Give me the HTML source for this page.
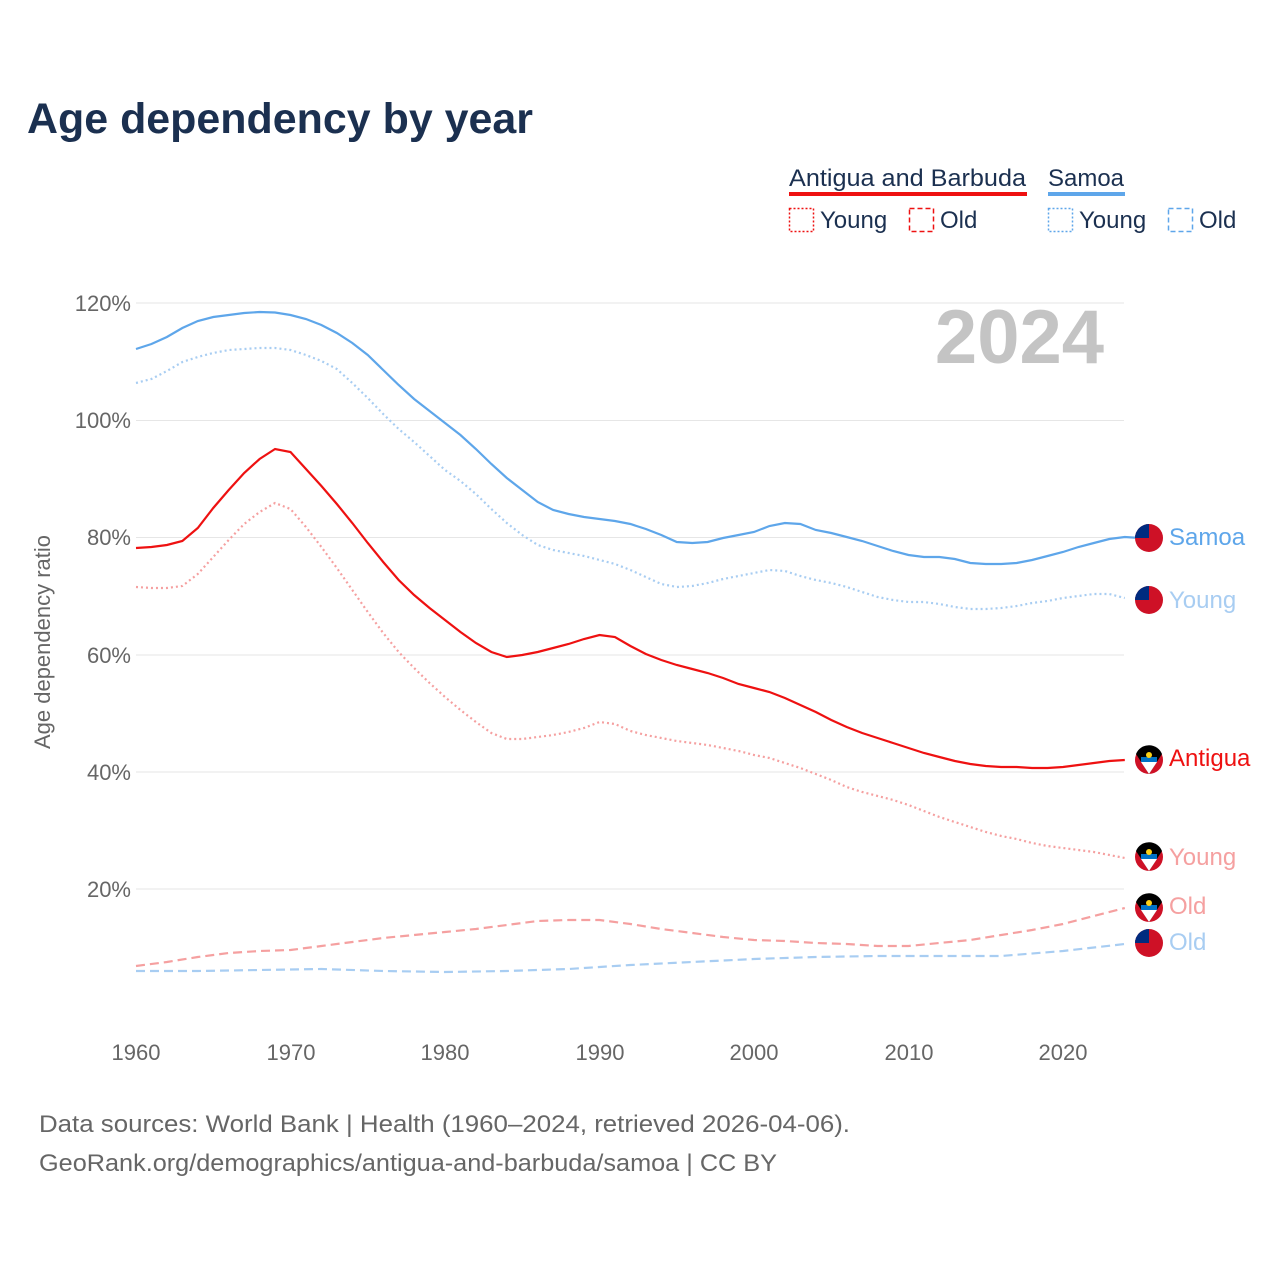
<!DOCTYPE html>
<html><head><meta charset="utf-8"><style>
body{margin:0;background:#fff;}
svg text{font-family:"Liberation Sans",sans-serif;}
</style></head><body>
<svg id="s" width="1280" height="1280" xmlns="http://www.w3.org/2000/svg">
<rect width="1280" height="1280" fill="#fff"/>
<text x="27" y="133" font-size="43" font-weight="bold" fill="#1b3050" textLength="506" lengthAdjust="spacingAndGlyphs">Age dependency by year</text>
<text x="789" y="186" font-size="24" fill="#1b3050" textLength="237" lengthAdjust="spacingAndGlyphs">Antigua and Barbuda</text>
<rect x="789" y="192" width="238" height="4" fill="#ee1111"/>
<text x="1048" y="186" font-size="24" fill="#1b3050" textLength="76" lengthAdjust="spacingAndGlyphs">Samoa</text>
<rect x="1048" y="192" width="77" height="4" fill="#5ea6ea"/>
<rect x="789.5" y="208.5" width="24" height="23" fill="none" stroke="#ee1111" stroke-width="1.5" stroke-dasharray="2,2"/>
<text x="820" y="228" font-size="24" fill="#1b3050">Young</text>
<rect x="909.5" y="208.5" width="24" height="23" fill="none" stroke="#ee1111" stroke-width="1.5" stroke-dasharray="5,3"/>
<text x="940" y="228" font-size="24" fill="#1b3050">Old</text>
<rect x="1048.5" y="208.5" width="24" height="23" fill="none" stroke="#5ea6ea" stroke-width="1.5" stroke-dasharray="2,2"/>
<text x="1079" y="228" font-size="24" fill="#1b3050">Young</text>
<rect x="1168.5" y="208.5" width="24" height="23" fill="none" stroke="#5ea6ea" stroke-width="1.5" stroke-dasharray="5,3"/>
<text x="1199" y="228" font-size="24" fill="#1b3050">Old</text>
<g stroke="#e6e6e6" stroke-width="1">
<line x1="136" x2="1124" y1="303" y2="303"/><line x1="136" x2="1124" y1="420.5" y2="420.5"/>
<line x1="136" x2="1124" y1="537.5" y2="537.5"/><line x1="136" x2="1124" y1="655" y2="655"/>
<line x1="136" x2="1124" y1="772" y2="772"/><line x1="136" x2="1124" y1="889" y2="889"/>
</g>
<g font-size="22" fill="#666" text-anchor="end">
<text x="131" y="311">120%</text><text x="131" y="428">100%</text><text x="131" y="545">80%</text>
<text x="131" y="663">60%</text><text x="131" y="780">40%</text><text x="131" y="897">20%</text>
</g>
<g font-size="22" fill="#666" text-anchor="middle">
<text x="136" y="1060">1960</text><text x="291" y="1060">1970</text><text x="445" y="1060">1980</text>
<text x="600" y="1060">1990</text><text x="754" y="1060">2000</text><text x="909" y="1060">2010</text><text x="1063" y="1060">2020</text>
</g>
<text transform="translate(50,642) rotate(-90)" font-size="22" fill="#666" text-anchor="middle">Age dependency ratio</text>
<text x="1104" y="363" font-size="76" font-weight="bold" fill="#c4c4c4" text-anchor="end">2024</text>
<g id="lines" fill="none" stroke-width="2.2"></g>
<g id="flags"></g>
<g font-size="24">
<text x="1169" y="545" fill="#5ea6ea">Samoa</text>
<text x="1169" y="608" fill="#a8cdf2">Young</text>
<text x="1169" y="766" fill="#ee1111">Antigua</text>
<text x="1169" y="865" fill="#f5a0a0">Young</text>
<text x="1169" y="914" fill="#f5a0a0">Old</text>
<text x="1169" y="950" fill="#a8cdf2">Old</text>
</g>
<text x="39" y="1132" font-size="24" fill="#666" textLength="811" lengthAdjust="spacingAndGlyphs">Data sources: World Bank | Health (1960–2024, retrieved 2026-04-06).</text>
<text x="39" y="1171" font-size="24" fill="#666" textLength="738" lengthAdjust="spacingAndGlyphs">GeoRank.org/demographics/antigua-and-barbuda/samoa | CC BY</text>
</svg>
<script>
function X(y){return 136+(y-1960)*15.45;}
function full(a){return a.map((v,i)=>[X(1960+i),v]);}
function sparse(a){var r=[];for(var i=0;i<a.length;i+=2)r.push([X(a[i]),a[i+1]]);return r;}
var st=[349,344,337,328,321,317,315,313,312,312.5,315,319,325,333,343,355,370,385,399,411,423,435,449,464,478,490,502,510,514,517,519,521,524,529,535,542,543,542,538,535,532,526,523,524,530,533,537,541,546,551,555,557,557,559,563,564,564,563,560,556,552,547,543,539,537,538];
var sy=[383,379,371,362,357,353,350,349,348,348,350,355,361,369,383,398,414,429,442,456,470,481,494,509,523,535,545,550,553,556,560,564,570,577,584,587,586,583,579,576,573,570,571,576,580,583,587,592,597,600,602,602,604,607,609,609,608,606,603,601,598,596,594,594,598];
var at=[548,547,545,541,528,508,490,473,459,449,452,469,486,504,523,543,562,580,595,608,620,632,643,652,657,655,652,648,644,639,635,637,646,654,660,665,669,673,678,684,688,692,698,705,712,720,727,733,738,743,748,753,757,761,764,766,767,767,768,768,767,765,763,761,760];
var ay=[587,588,588,586,574,557,540,524,512,503,509,527,547,568,590,612,633,652,668,683,697,710,722,733,739,739,737,735,732,728,722,724,731,735,738,741,743,745,748,751,755,758,763,768,774,780,787,792,796,800,805,811,817,822,827,832,836,839,843,846,848,850,852,855,858];
var ao=[1960,966,1962,962,1964,957,1966,953,1968,951,1970,950,1972,946,1974,942,1976,938,1978,935,1980,932,1982,929,1984,925,1986,921,1988,920,1990,920,1992,924,1994,929,1996,933,1998,937,2000,940,2002,941,2004,943,2006,944,2008,946,2010,946,2012,943,2014,940,2016,935,2018,930,2020,924,2022,916,2024,908];
var so=[1960,971,1964,971,1968,970,1972,969,1976,971,1980,972,1984,971,1988,969,1992,965,1996,962,2000,959,2004,957,2008,956,2012,956,2016,956,2020,951,2024,944];
var g=document.getElementById('lines');
function add(p,c,d){var e=document.createElementNS('http://www.w3.org/2000/svg','polyline');e.setAttribute('points',p.map(q=>q.join(',')).join(' '));e.setAttribute('stroke',c);if(d)e.setAttribute('stroke-dasharray',d);g.appendChild(e);}
add(sparse(so),'#a8cdf2','9,5');add(sparse(ao),'#f5a0a0','9,5');
add(full(sy),'#a8cdf2','2,3');add(full(ay),'#f5a0a0','2,3');
add(full(st),'#5ea6ea');add(full(at),'#ee1111');
var f=document.getElementById('flags'),h='';
function samoa(y){return '<circle cx="1149" cy="'+y+'" r="14" fill="#ce1126"/><path d="M1135,'+y+' a14,14 0 0 1 14,-14 v14 z" fill="#002b7f"/>';}
function ant(y){return '<circle cx="1149" cy="'+y+'" r="14" fill="#ce1126"/><path d="M1136,'+(y-6)+' a14,14 0 0 1 26,0 L1149,'+(y+14)+' z" fill="#000"/><path d="M1141,'+(y+2)+' h16 L1149,'+(y+14)+' z" fill="#fff"/><rect x="1141" y="'+(y-3)+'" width="16" height="5" fill="#0072c6"/><circle cx="1149" cy="'+(y-5)+'" r="3" fill="#fcd116"/>';}
h+=samoa(538)+samoa(600)+ant(760)+ant(857)+ant(908)+samoa(943);
f.innerHTML=h;
</script>
</body></html>
